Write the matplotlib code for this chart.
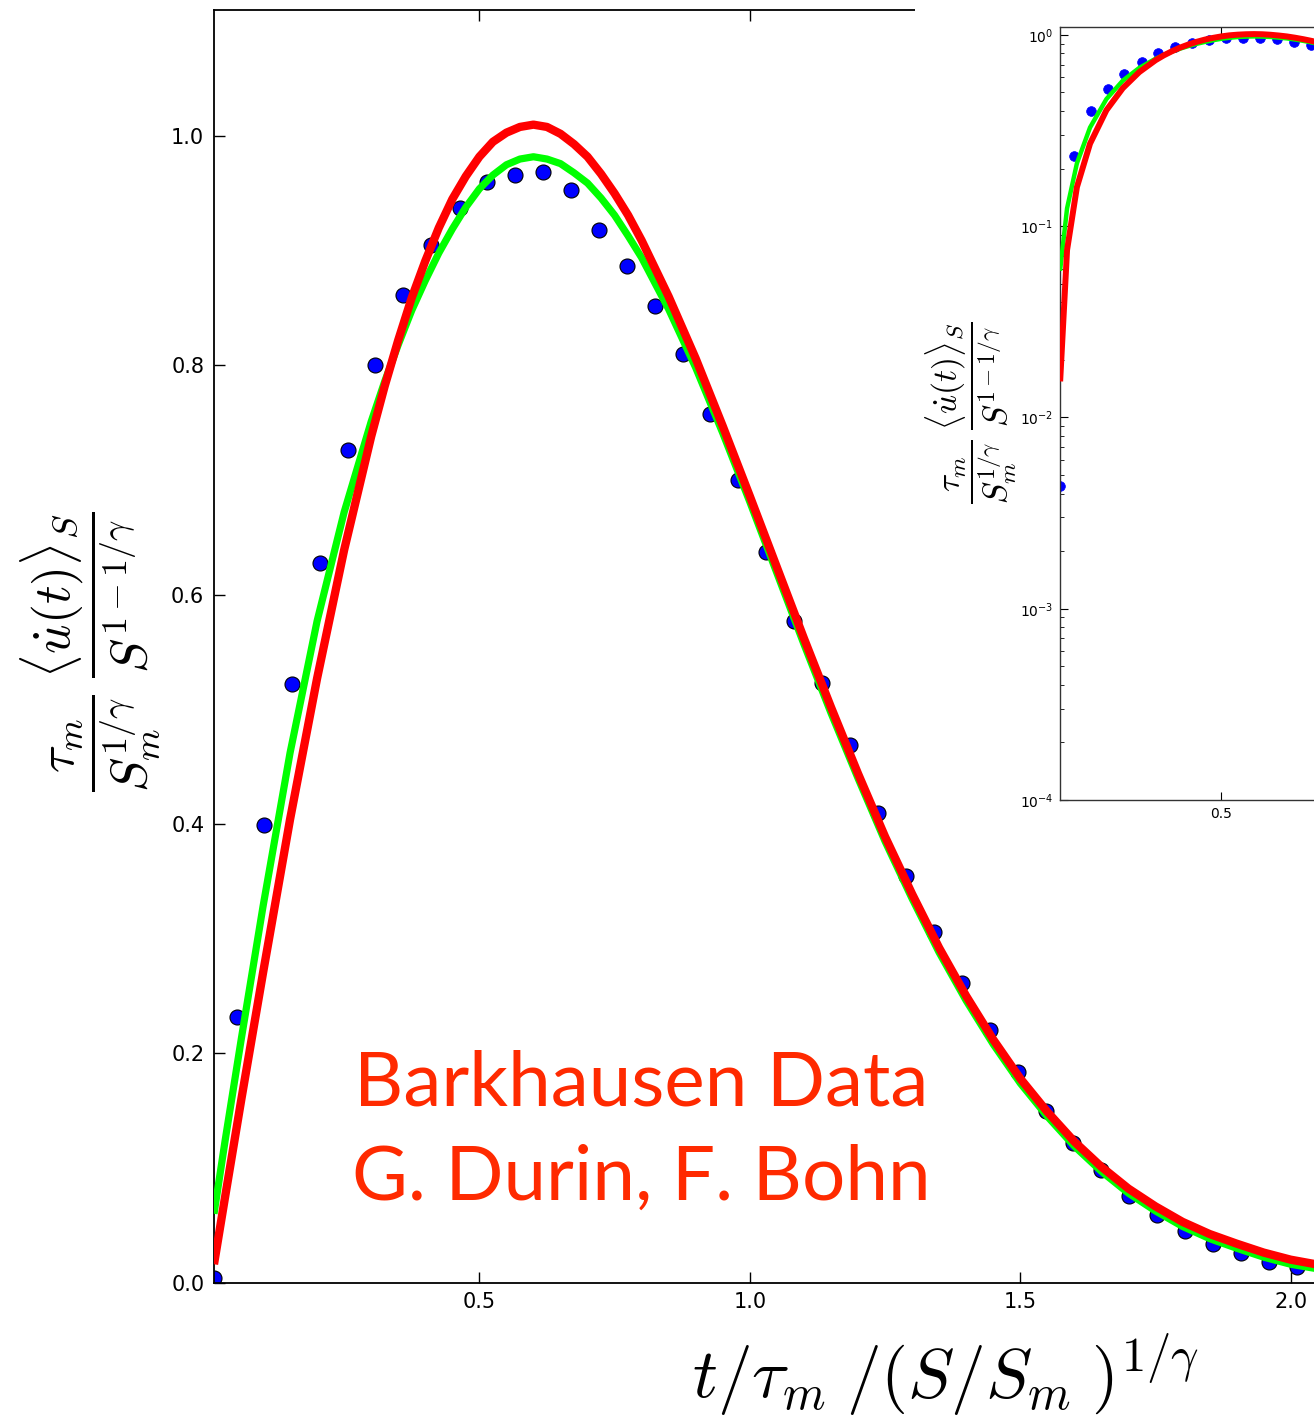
import matplotlib
matplotlib.use('Agg')
import matplotlib.pyplot as plt
from matplotlib.patches import Rectangle

plt.rcParams['mathtext.fontset'] = 'cm'
plt.rcParams['font.family'] = ['DejaVu Sans']

# ---- data ----
data_x = [0.0094, 0.052, 0.102, 0.154, 0.205, 0.257, 0.307, 0.359, 0.411, 0.464,
          0.514, 0.566, 0.618, 0.670, 0.721, 0.773, 0.825, 0.877, 0.926, 0.978,
          1.030, 1.082, 1.134, 1.185, 1.237, 1.289, 1.341, 1.392, 1.444, 1.496,
          1.548, 1.598, 1.649, 1.701, 1.753, 1.805, 1.857, 1.908, 1.960, 2.012]
data_y = [0.0044, 0.232, 0.399, 0.522, 0.628, 0.726, 0.800, 0.861, 0.905, 0.937,
          0.960, 0.966, 0.969, 0.953, 0.918, 0.887, 0.852, 0.810, 0.758, 0.700,
          0.637, 0.577, 0.523, 0.469, 0.410, 0.355, 0.306, 0.261, 0.220, 0.184,
          0.150, 0.122, 0.098, 0.0755, 0.059, 0.045, 0.034, 0.0256, 0.018, 0.0139]

curve_x = [0.0094, 0.03, 0.06, 0.10, 0.15, 0.20, 0.25, 0.30, 0.325, 0.35,
           0.375, 0.40, 0.425, 0.45, 0.475, 0.50, 0.525, 0.55, 0.575, 0.60,
           0.625, 0.65, 0.675, 0.70, 0.725, 0.75, 0.775, 0.80, 0.85, 0.90,
           0.95, 1.00, 1.05, 1.10, 1.15, 1.20, 1.25, 1.30, 1.35, 1.40,
           1.45, 1.50, 1.55, 1.60, 1.65, 1.70, 1.75, 1.80, 1.85, 1.90,
           1.95, 2.00, 2.05, 2.10, 2.15, 2.20]
red_y = [0.016, 0.075, 0.160, 0.270, 0.404, 0.527, 0.639, 0.738, 0.782, 0.822,
         0.859, 0.891, 0.920, 0.945, 0.965, 0.982, 0.995, 1.003, 1.008, 1.010,
         1.008, 1.002, 0.993, 0.982, 0.967, 0.950, 0.931, 0.909, 0.860, 0.806,
         0.747, 0.686, 0.624, 0.562, 0.502, 0.444, 0.389, 0.339, 0.292, 0.250,
         0.212, 0.178, 0.149, 0.123, 0.101, 0.082, 0.0665, 0.053, 0.0424, 0.034,
         0.0262, 0.020, 0.0157, 0.012, 0.0092, 0.007]
green_y = [0.060, 0.124, 0.213, 0.328, 0.462, 0.577, 0.672, 0.751, 0.786, 0.818,
           0.848, 0.874, 0.898, 0.919, 0.938, 0.954, 0.966, 0.975, 0.980, 0.982,
           0.980, 0.976, 0.968, 0.959, 0.946, 0.931, 0.913, 0.894, 0.849, 0.798,
           0.741, 0.681, 0.619, 0.557, 0.497, 0.440, 0.385, 0.335, 0.288, 0.246,
           0.208, 0.174, 0.145, 0.119, 0.097, 0.078, 0.0625, 0.049, 0.0384, 0.030,
           0.0222, 0.016, 0.012, 0.0085, 0.006, 0.004]

main_yticks = [0.0, 0.2, 0.4, 0.6, 0.8, 1.0]
main_xticks = [0.5, 1.0, 1.5, 2.0, 2.5]

W, H = 1314, 1422
fig = plt.figure(figsize=(W / 100, H / 100), dpi=100)

def fx(px):
    return px / W

def fy(py):
    return 1 - py / H

# ---- main axes ----
ax = fig.add_axes([fx(214), fy(1282.6), (1676 - 214) / W, (1282.6 - 10) / H], zorder=0)
ax.plot(data_x, data_y, 'o', color='#0000ff', mec='black', mew=0.8, ms=10.8,
        zorder=2, clip_on=True)
ax.plot(curve_x, green_y, '-', color='#00ff00', lw=5.2, zorder=3,
        solid_capstyle='butt', solid_joinstyle='round')
ax.plot(curve_x, red_y, '-', color='#ff0000', lw=6.0, zorder=4,
        solid_capstyle='butt', solid_joinstyle='round')
ax.set_xlim(0.0094, 2.7124)
ax.set_ylim(0, 1.11)
ax.set_xticks(main_xticks)
ax.set_yticks(main_yticks)
ax.set_xticklabels([f'{v:.1f}' for v in main_xticks])
ax.set_yticklabels([f'{v:.1f}' for v in main_yticks])
ax.tick_params(direction='in', length=8, width=1, top=True, right=True,
               labelsize=15, pad=7)
for s in ax.spines.values():
    s.set_linewidth(1.3)

fig.text(fx(945), fy(1376), r'$t/\tau_m\;/(S/S_m\;)^{1/\gamma}$',
         fontsize=50, ha='center', va='center')
fig.text(fx(90), fy(652),
         r'$\dfrac{\tau_m}{S_m^{1/\gamma}}\;\dfrac{\langle \dot{u}(t)\rangle_S}{S^{1-1/\gamma}}$',
         fontsize=37, rotation=90, ha='center', va='center')

fig.text(fx(641), fy(1105), 'Barkhausen Data', fontsize=55, color='#ff2a00',
         family='Lato', ha='center', va='baseline')
fig.text(fx(641), fy(1200), 'G. Durin, F. Bohn', fontsize=55, color='#ff2a00',
         family='Lato', ha='center', va='baseline')

# ---- white panel behind inset ----
fig.add_artist(Rectangle((fx(915), fy(828)), 1 - fx(915) + 0.01, 1 - fy(828) + 0.01,
                         transform=fig.transFigure, facecolor='white',
                         edgecolor='none', zorder=1))

# ---- inset (log scale) ----
axi = fig.add_axes([fx(1060.3), fy(800), 718.5 / W, (800 - 27) / H], zorder=2)
axi.plot(data_x, data_y, 'o', color='#0000ff', mec='#0000ff', mew=0.5, ms=7, zorder=2)
axi.plot(curve_x, green_y, '-', color='#00ff00', lw=3.2, zorder=3,
         solid_joinstyle='round')
axi.plot(curve_x, red_y, '-', color='#ff0000', lw=4.3, zorder=4,
         solid_joinstyle='round')
axi.set_yscale('log')
axi.set_xlim(0.0094, 2.2)
axi.set_ylim(1e-4, 1.1)
axi.set_xticks([0.5, 1.0, 1.5, 2.0])
axi.tick_params(which='major', direction='in', length=6, width=0.8, top=True,
                right=True, labelsize=10, pad=5)
axi.tick_params(which='minor', direction='in', length=3, width=0.6, top=True, right=True)
for s in axi.spines.values():
    s.set_linewidth(1.0)
    s.set_color('#333333')

fig.text(fx(971), fy(413),
         r'$\dfrac{\tau_m}{S_m^{1/\gamma}}\;\dfrac{\langle \dot{u}(t)\rangle_S}{S^{1-1/\gamma}}$',
         fontsize=24, rotation=90, ha='center', va='center', zorder=5)

fig.savefig('out.png', dpi=100)
